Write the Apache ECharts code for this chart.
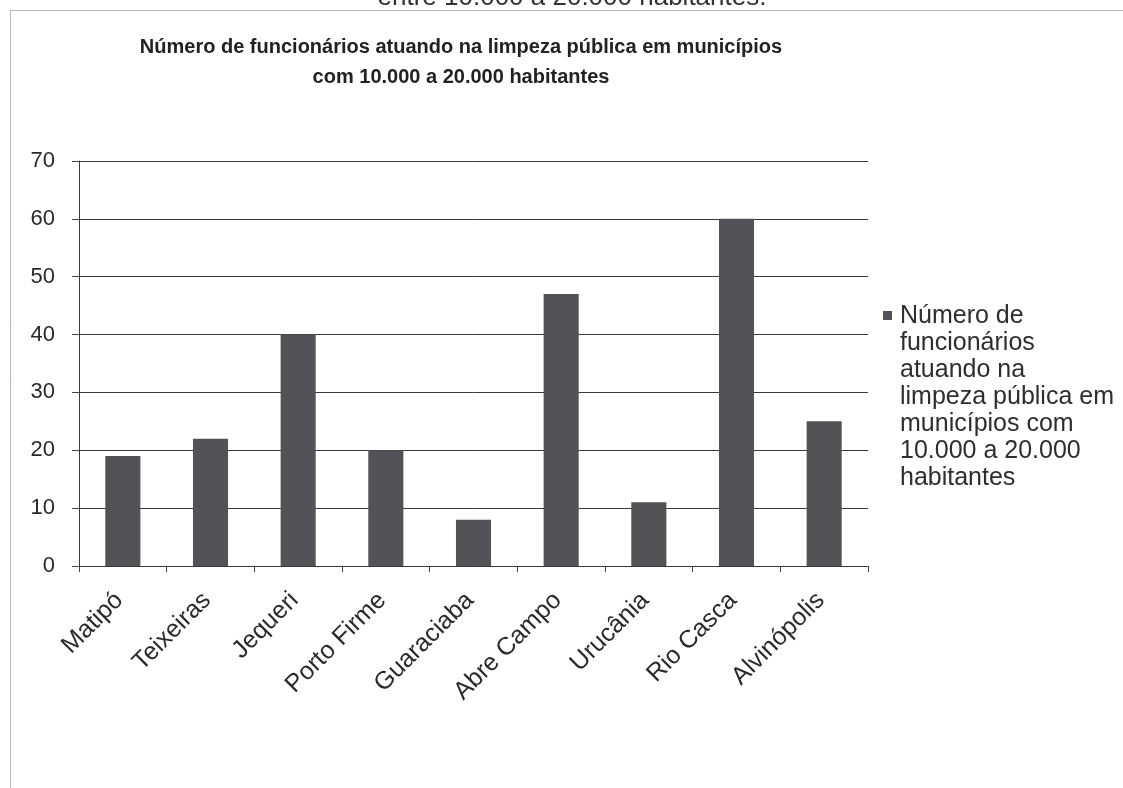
<!DOCTYPE html>
<html>
<head>
<meta charset="utf-8">
<script src="https://cdn.jsdelivr.net/npm/echarts@6/dist/echarts.min.js"></script>
<style>
  html, body { margin: 0; padding: 0; background: #fff; }
  #chart { width: 1123px; height: 788px; }
</style>
</head>
<body>
<div id="chart"></div>
<script>
// Municipalities (categories)
const municipios = ['Matipó', 'Teixeiras', 'Jequeri', 'Porto Firme', 'Guaraciaba', 'Abre Campo', 'Urucânia', 'Rio Casca', 'Alvinópolis'];
// Number of cleaning staff per municipality
const funcionarios = [19, 22, 40, 20, 8, 47, 11, 60, 25];
// Y axis range
const yMin = 0, yMax = 70, yStep = 10;

const seriesName = 'Número de\nfuncionários\natuando na\nlimpeza pública em\nmunicípios com\n10.000 a 20.000\nhabitantes';
const font = '"Liberation Sans", Arial, sans-serif';
const ink = '#2a2a2a';
const barColor = '#525257';

const chart = echarts.init(document.getElementById('chart'), null, { renderer: 'canvas' });
chart.setOption({
  backgroundColor: '#fff',
  animation: false,
  textStyle: { fontFamily: font },
  title: {
    text: 'Número de funcionários atuando na limpeza pública em municípios\ncom 10.000 a 20.000 habitantes',
    left: 461, top: 32, textAlign: 'center', padding: 0,
    textStyle: { fontFamily: font, fontSize: 20, fontWeight: 'bold', color: '#222', lineHeight: 30 }
  },
  graphic: [
    // caption line of the page above, cut by the top edge
    {
      type: 'text', z: 10, silent: true,
      style: {
        text: 'entre 10.000 a 20.000 habitantes.', x: 572, y: -15,
        align: 'center', verticalAlign: 'top',
        fontFamily: font, fontSize: 26, fill: '#333', lineHeight: 26
      }
    },
    // dotted frame round the chart
    {
      type: 'rect', z: 10, silent: true,
      shape: { x: 10.5, y: 10.5, width: 1200, height: 900 },
      style: { fill: 'none', stroke: '#6a6a6a', lineWidth: 1, lineDash: [1, 1] }
    },
    // legend label, several lines beside the legend swatch
    {
      type: 'text', z: 10, silent: true,
      style: {
        text: seriesName, x: 900, y: 302.5,
        align: 'left', verticalAlign: 'top',
        fontFamily: font, fontSize: 25, lineHeight: 27, fill: '#2e2e2e'
      }
    }
  ],
  legend: {
    orient: 'vertical', left: 883, top: 311, padding: 0,
    itemWidth: 9, itemHeight: 9, itemGap: 0,
    icon: 'rect',
    formatter: () => '',
    textStyle: { fontSize: 1 },
    data: [seriesName]
  },
  grid: { left: 79, right: 255, top: 161, bottom: 222, containLabel: false },
  xAxis: {
    type: 'category',
    data: municipios,
    boundaryGap: true,
    axisLine: { show: true, lineStyle: { color: '#3a3a3a', width: 1 } },
    axisTick: { show: true, alignWithLabel: false, length: 6, lineStyle: { color: '#444' } },
    axisLabel: {
      rotate: 45, fontFamily: font, fontSize: 25, color: ink,
      margin: 27, padding: [0, 5, 0, 0], interval: 0
    }
  },
  yAxis: {
    type: 'value', min: yMin, max: yMax, interval: yStep,
    axisLine: { show: true, lineStyle: { color: '#3a3a3a', width: 1 } },
    axisTick: { show: true, length: 7, lineStyle: { color: '#444' } },
    axisLabel: { fontFamily: font, fontSize: 22, color: ink, margin: 24 },
    splitLine: { show: true, lineStyle: { color: '#3a3a3a', width: 1 } }
  },
  series: [{
    name: seriesName,
    type: 'bar',
    data: funcionarios,
    barWidth: '40%',
    itemStyle: { color: barColor }
  }]
});
</script>
</body>
</html>
